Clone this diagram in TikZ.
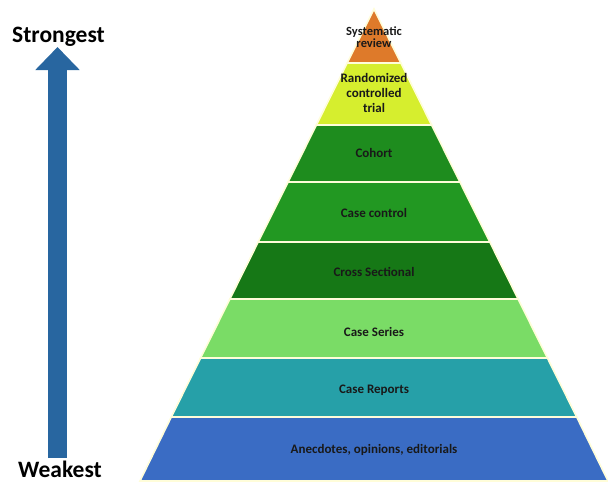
\documentclass[tikz,border=0pt]{standalone}
\usepackage{fontspec}
\setmainfont{Carlito}
\usetikzlibrary{arrows.meta}

\definecolor{sysorange}{RGB}{222,122,42}
\definecolor{rctyellow}{RGB}{214,238,46}
\definecolor{cohortgreen}{RGB}{30,140,30}
\definecolor{ccgreen}{RGB}{34,152,34}
\definecolor{crossgreen}{RGB}{22,120,22}
\definecolor{seriesgreen}{RGB}{122,220,102}
\definecolor{reportteal}{RGB}{38,160,168}
\definecolor{anecblue}{RGB}{58,108,196}
\definecolor{arrowblue}{RGB}{40,102,160}

\begin{document}
\begin{tikzpicture}[x=1pt,y=-1pt,
   band/.style={draw=white!85!yellow, line width=1.6pt},
   level/.style={font=\bfseries\fontsize{13}{14}\selectfont, text=black!90, align=center, inner sep=0pt},
   endlabel/.style={font=\bfseries\fontsize{23.5}{26}\selectfont, anchor=base, inner sep=0pt}]
   \useasboundingbox (0,0) rectangle (608,483);

   % Draw pyramid bands
   \filldraw [band, fill=sysorange] (374,9) -- (400.8,63) -- (347.2,63) -- cycle;
   \filldraw [band, fill=rctyellow] (347.2,63) -- (400.8,63) -- (431.6,125) -- (316.4,125) -- cycle;
   \filldraw [band, fill=cohortgreen] (316.4,125) -- (431.6,125) -- (459.9,182) -- (288.1,182) -- cycle;
   \filldraw [band, fill=ccgreen] (288.1,182) -- (459.9,182) -- (489.8,242) -- (258.2,242) -- cycle;
   \filldraw [band, fill=crossgreen] (258.2,242) -- (489.8,242) -- (518.1,299) -- (229.9,299) -- cycle;
   \filldraw [band, fill=seriesgreen] (229.9,299) -- (518.1,299) -- (547.4,358) -- (200.6,358) -- cycle;
   \filldraw [band, fill=reportteal] (200.6,358) -- (547.4,358) -- (576.7,417) -- (171.3,417) -- cycle;
   \filldraw [band, fill=anecblue] (171.3,417) -- (576.7,417) -- (608,481) -- (140,481) -- cycle;

   % Level names
   \node (sysrev) [level, font=\bfseries\fontsize{12.5}{11.5}\selectfont] at (374,37) {Systematic\\review};
   \node (rct) [level, font=\bfseries\fontsize{13}{15}\selectfont] at (374,93) {Randomized\\controlled\\trial};
   \node (cohort) [level] at (374,153) {Cohort};
   \node (casectrl) [level] at (374,213) {Case control};
   \node (cross) [level] at (374,272) {Cross Sectional};
   \node (series) [level] at (374,332) {Case Series};
   \node (reports) [level] at (374,390) {Case Reports};
   \node (anecdotes) [level] at (374,450) {Anecdotes, opinions, editorials};

   % Strength arrow
   \node (strong) [endlabel] at (58.5,42) {Strongest};
   \node (weak) [endlabel] at (60,477) {Weakest};
   \coordinate (tail) at (57.5,458);
   \coordinate (tip) at (57.5,47);
   \draw [arrowblue, line width=19pt, -{Triangle[width=43pt,length=23pt]}] (tail) -- (tip);
\end{tikzpicture}
\end{document}
